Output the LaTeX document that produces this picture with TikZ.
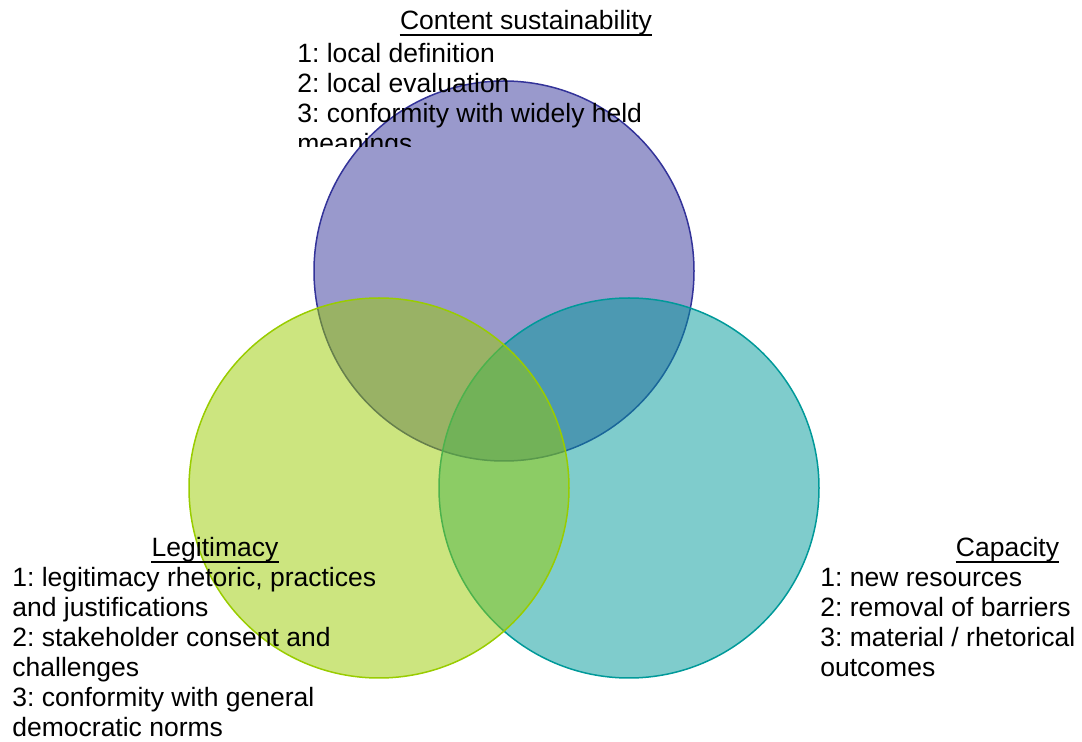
\documentclass[tikz,border=0pt]{standalone}
\usepackage{fontspec}
\setmainfont{Liberation Sans}
\usepackage{xcolor}
\frenchspacing

\definecolor{sustblue}{RGB}{51,51,153}
\definecolor{legitgreen}{RGB}{153,204,0}
\definecolor{capteal}{RGB}{0,153,153}

\begin{document}
\begin{tikzpicture}[x=0.5pt, y=-0.5pt,
  venn/.style={draw, circle, minimum size=190pt, inner sep=0, line width=0.75pt, fill opacity=0.5},
  lbl/.style={inner sep=0, anchor=base west, font=\fontsize{13.25}{15}\selectfont},
  head/.style={inner sep=0, anchor=base, font=\fontsize{13.25}{15}\selectfont},
  uline/.style={line width=1pt}
]
\useasboundingbox (0,0) rectangle (1082,742);

% the three sets
\node[venn, draw=sustblue, fill=sustblue] (sust) at (504,271) {};
\node[venn, draw=capteal, fill=capteal] (cap) at (629,488) {};
\node[venn, draw=legitgreen, fill=legitgreen] (legit) at (379,488) {};

% content sustainability, cut off by its box
\node[head] (susthead) at (526,30) {Content sustainability};
\draw[uline] ([yshift=-2.3pt]susthead.base west) -- ([yshift=-2.3pt]susthead.base east);
\begin{scope}
\clip (0,0) rectangle (1082,147);
\foreach \t [count=\i] in {1: local definition, 2: local evaluation,
    3: conformity with widely held, meanings}
  \node[lbl] (sust\i) at (297,32.7+30*\i) {\t};
\end{scope}

% legitimacy
\node[head] (legithead) at (215,557) {Legitimacy};
\draw[uline] ([yshift=-2.3pt]legithead.base west) -- ([yshift=-2.3pt]legithead.base east);
\foreach \t [count=\i] in {{1: legitimacy rhetoric, practices}, and justifications,
    2: stakeholder consent and, challenges, 3: conformity with general, democratic norms}
  \node[lbl] (legit\i) at (12,557+30*\i) {\t};

% capacity
\node[head] (caphead) at (1007.5,557) {Capacity};
\draw[uline] ([yshift=-2.3pt]caphead.base west) -- ([yshift=-2.3pt]caphead.base east);
\foreach \t [count=\i] in {1: new resources, 2: removal of barriers,
    3: material / rhetorical, outcomes}
  \node[lbl] (cap\i) at (820,557+30*\i) {\t};
\end{tikzpicture}
\end{document}
